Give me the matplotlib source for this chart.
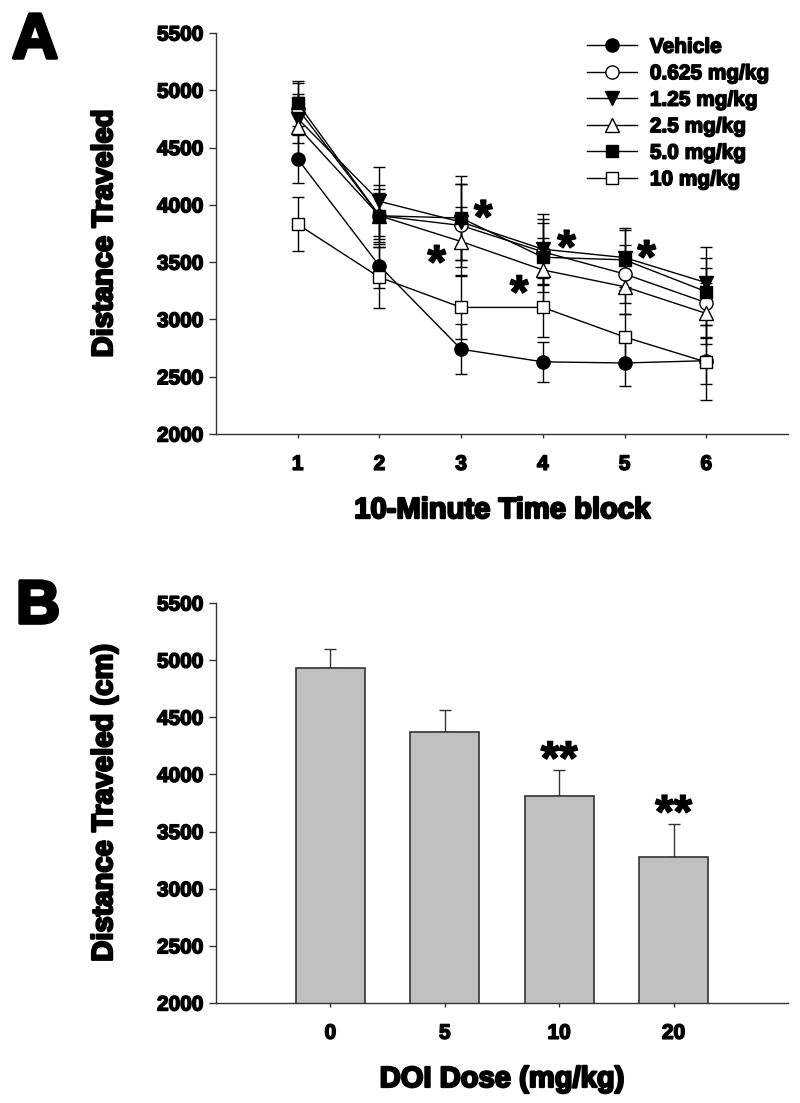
import numpy as np
import matplotlib.pyplot as plt
import matplotlib.patheffects as pe

plt.rcParams['font.family'] = ['Liberation Sans', 'DejaVu Sans']
plt.rcParams['font.weight'] = 'bold'

# panel A: distance per 10-min block
blocks = [1, 2, 3, 4, 5, 6]
groups = ['Vehicle', '0.625 mg/kg', '1.25 mg/kg', '2.5 mg/kg', '5.0 mg/kg', '10 mg/kg']
vehicle = [4400, 3467, 2740, 2630, 2620, 2640]
dose_0625 = [4840, 3905, 3820, 3590, 3397, 3146]
dose_125 = [4753, 4031, 3850, 3613, 3540, 3321]
dose_25 = [4683, 3905, 3680, 3432, 3286, 3052]
dose_50 = [4887, 3905, 3885, 3543, 3520, 3242]
dose_10 = [3830, 3368, 3105, 3105, 2847, 2628]
err_vehicle = [210, 190, 220, 175, 205, 200]
err_0625 = [225, 200, 360, 290, 250, 300]
err_125 = [215, 300, 330, 307, 260, 315]
err_25 = [260, 230, 300, 280, 240, 270]
err_50 = [195, 270, 365, 300, 263, 290]
err_10 = [235, 265, 280, 260, 200, 327]

# where the significance stars sit (block, value)
star_x = [2.70, 3.27, 3.71, 4.29, 5.27]
star_y = [3563, 3958, 3300, 3695, 3607]

# panel B: total distance by dose
doses = ['0', '5', '10', '20']
totals = [4927, 4375, 3811, 3274]
totals_err = [173, 190, 228, 295]
bar_stars = ['', '', '**', '**']

series = [vehicle, dose_0625, dose_125, dose_25, dose_50, dose_10]
errs = [err_vehicle, err_0625, err_125, err_25, err_50, err_10]
markers = ['o', 'o', 'v', '^', 's', 's']
faces = ['black', 'white', 'black', 'white', 'black', 'white']
msizes = [9.5, 9.5, 9.5, 9.5, 8.5, 8.5]

heavy = [pe.withStroke(linewidth=1.1, foreground='black')]
heavy_big = [pe.withStroke(linewidth=1.6, foreground='black')]

fig = plt.figure(figsize=(8, 11.03), dpi=100)
axA = fig.add_axes([0.27, 0.6065, 0.715, 0.3636])
axB = fig.add_axes([0.27, 0.0907, 0.715, 0.3626])

for ax in (axA, axB):
    ax.spines['top'].set_visible(False)
    ax.spines['right'].set_visible(False)
    for s in ('left', 'bottom'):
        ax.spines[s].set_color('#333333')
        ax.spines[s].set_linewidth(1.0)
    ax.set_ylim(2000, 5500)
    ax.set_yticks(np.arange(2000, 5501, 500))
    ax.tick_params(axis='y', direction='out', length=5, width=1, colors='#333333',
                   labelcolor='black', labelsize=15, pad=4)
    ax.tick_params(axis='x', direction='out', length=3, width=1, colors='#333333',
                   labelcolor='black', labelsize=15, pad=12)

for vals, e, m, fc, ms, name in zip(series, errs, markers, faces, msizes, groups):
    axA.errorbar(blocks, vals, yerr=e, color='black', lw=1, elinewidth=1,
                 capsize=4.5, capthick=1, marker=m, mfc=fc, mec='black',
                 ms=ms, mew=1, label=name)

for x, y in zip(star_x, star_y):
    axA.text(x, y - 95, '*', fontsize=34, fontweight='bold', ha='center', va='center',
             path_effects=heavy)

axA.set_xlim(0, 7)
axA.set_xticks(blocks)
axA.set_xticklabels([str(b) for b in blocks])
axA.set_xlabel('10-Minute Time block', fontsize=21, fontweight='bold', labelpad=16,
               path_effects=heavy_big)
axA.set_ylabel('Distance Traveled', fontsize=21, fontweight='bold', labelpad=28,
               path_effects=heavy_big)

handles, labels = axA.get_legend_handles_labels()
handles = [h[0] for h in handles]
leg = axA.legend(handles, labels, loc='upper right', bbox_to_anchor=(1.0, 1.035), frameon=False,
                 handlelength=2.4, handletextpad=0.6, labelspacing=0.36,
                 prop={'weight': 'bold', 'size': 15})
for t in leg.get_texts():
    t.set_path_effects(heavy)

pos = np.arange(len(doses))
axB.bar(pos, totals, width=0.6, bottom=0, color='#c0c0c0', edgecolor='#333333', linewidth=1.2, zorder=2)
axB.errorbar(pos, totals, yerr=[np.zeros(len(totals)), totals_err], fmt='none',
             ecolor='#333333', elinewidth=1, capsize=4.5, capthick=1, zorder=1)
for p, t, e, s in zip(pos, totals, totals_err, bar_stars):
    if s:
        axB.text(p, t + e + 70, s, fontsize=34, fontweight='bold', ha='center', va='center',
                 path_effects=heavy)

axB.set_xlim(-1, 4)
axB.set_xticks(pos)
axB.set_xticklabels(doses)
axB.set_xlabel('DOI Dose (mg/kg)', fontsize=21, fontweight='bold', labelpad=16,
               path_effects=heavy_big)
axB.set_ylabel('Distance Traveled (cm)', fontsize=21, fontweight='bold', labelpad=28,
               path_effects=heavy_big)

for ax in (axA, axB):
    for lab in ax.get_yticklabels() + ax.get_xticklabels():
        lab.set_fontweight('bold')
        lab.set_path_effects(heavy)

fig.text(0.015, 0.99, 'A', fontsize=46, fontweight='bold', va='top', ha='left',
         path_effects=[pe.withStroke(linewidth=2.5, foreground='black')])
fig.text(0.02, 0.475, 'B', fontsize=44, fontweight='bold', va='top', ha='left',
         path_effects=[pe.withStroke(linewidth=2.5, foreground='black')])

fig.savefig('out.png', dpi=100)
